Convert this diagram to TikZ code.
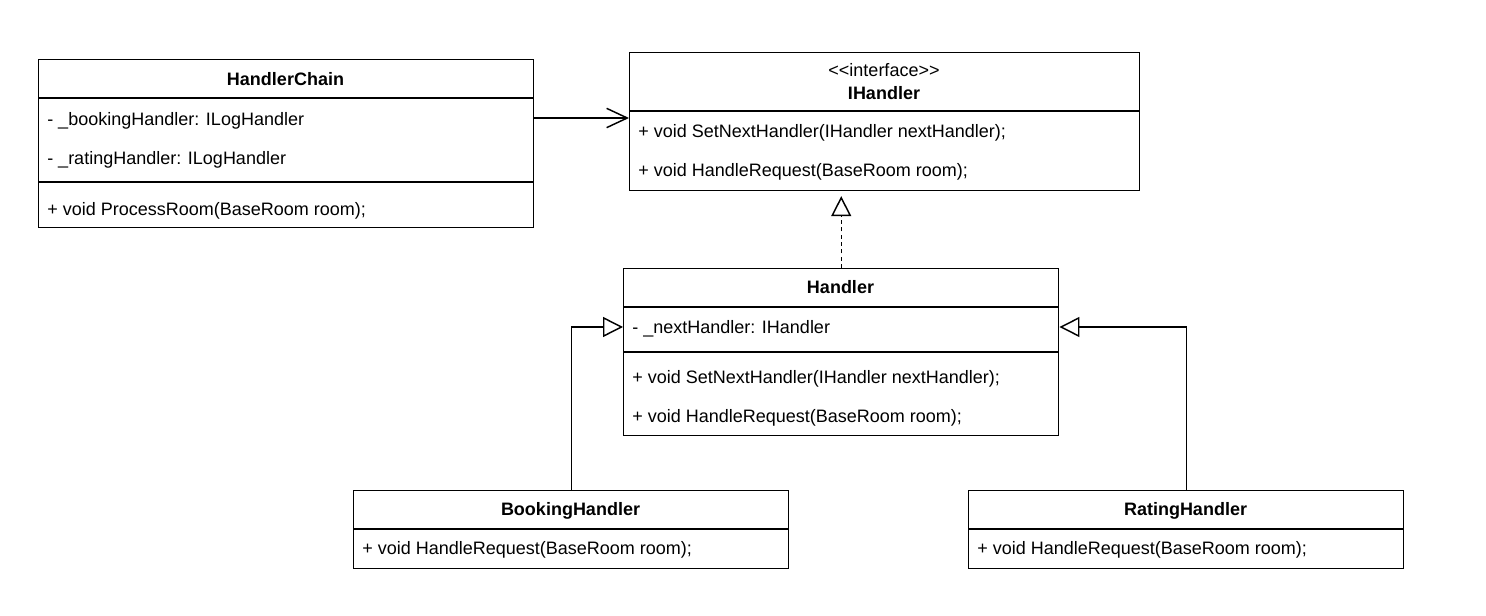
\documentclass[tikz,border=0pt]{standalone}
\usepackage{fontspec}
\setmainfont{Liberation Sans}
\usetikzlibrary{arrows.meta}
\tikzset{
  box/.style={draw, line width=1.1pt, inner sep=0pt, anchor=north west},
  sep/.style={line width=1.1pt},
  title/.style={anchor=base, inner sep=0pt, font=\fontsize{13.5}{16}\selectfont\bfseries},
  stereo/.style={anchor=base, inner sep=0pt, font=\fontsize{13.5}{16}\selectfont},
  row/.style={anchor=base west, inner sep=0pt, font=\fontsize{13.5}{16}\selectfont},
  conn/.style={line width=1.1pt},
  gen/.style={conn, -{Triangle[length=15pt, width=15pt, fill=white]}},
  real/.style={conn, dash pattern=on 3pt off 2.5pt, -{Triangle[length=15pt, width=15pt, fill=white]}, shorten >=3.5pt},
  assoc/.style={conn, -{Straight Barb[length=15.5pt, width=14.5pt]}}
}
\begin{document}
\begin{tikzpicture}[x=0.75pt, y=-0.75pt]
\fill[white] (0,0) rectangle (1486,616);
\useasboundingbox (0,0) rectangle (1486,616);

% HandlerChain
\node[box, minimum width=371.25pt, minimum height=126pt] (hc) at (38,59) {};
\draw[sep] (hc.west |- 0,98) -- (hc.east |- 0,98);
\draw[sep] (hc.west |- 0,182) -- (hc.east |- 0,182);
\node[title] (hct) at (285.5,85.7) {HandlerChain};
\node[row] (hc1) at (47,125.5) {- \_bookingHandler: ILogHandler};
\node[row] (hc2) at (47,164.5) {- \_ratingHandler: ILogHandler};
\node[row] (hc3) at (47,215.7) {+ void ProcessRoom(BaseRoom room);};

% IHandler
\node[box, minimum width=382.5pt, minimum height=103.5pt] (ih) at (629,52) {};
\draw[sep] (ih.west |- 0,111) -- (ih.east |- 0,111);
\node[stereo] (ihs) at (884,77) {<{}<interface>{}>};
\node[title] (iht) at (884,100) {IHandler};
\node[row] (ih1) at (638,137.7) {+ void SetNextHandler(IHandler nextHandler);};
\node[row] (ih2) at (638,176.7) {+ void HandleRequest(BaseRoom room);};

% Handler
\node[box, minimum width=326.25pt, minimum height=125.25pt] (h) at (623,268) {};
\draw[sep] (h.west |- 0,307) -- (h.east |- 0,307);
\draw[sep] (h.west |- 0,352) -- (h.east |- 0,352);
\node[title] (ht) at (840.5,294) {Handler};
\node[row] (h1) at (632,333.5) {- \_nextHandler: IHandler};
\node[row] (h2) at (632,384) {+ void SetNextHandler(IHandler nextHandler);};
\node[row] (h3) at (632,423) {+ void HandleRequest(BaseRoom room);};

% BookingHandler
\node[box, minimum width=326.25pt, minimum height=58.5pt] (bh) at (353,490) {};
\draw[sep] (bh.west |- 0,529) -- (bh.east |- 0,529);
\node[title] (bht) at (570.5,516) {BookingHandler};
\node[row] (bh1) at (362,555) {+ void HandleRequest(BaseRoom room);};

% RatingHandler
\node[box, minimum width=326.25pt, minimum height=58.5pt] (rh) at (968,490) {};
\draw[sep] (rh.west |- 0,529) -- (rh.east |- 0,529);
\node[title] (rht) at (1185.5,516) {RatingHandler};
\node[row] (rh1) at (977,555) {+ void HandleRequest(BaseRoom room);};

% connectors
\draw[assoc] (hc.east |- 0,118) -- (ih.west |- 0,118);
\draw[real] (h.north) -- (h.north |- ih.south);
\draw[gen] (bh.north) |- (h.west |- 0,327);
\draw[gen] (rh.north) |- (h.east |- 0,327);
\end{tikzpicture}
\end{document}
